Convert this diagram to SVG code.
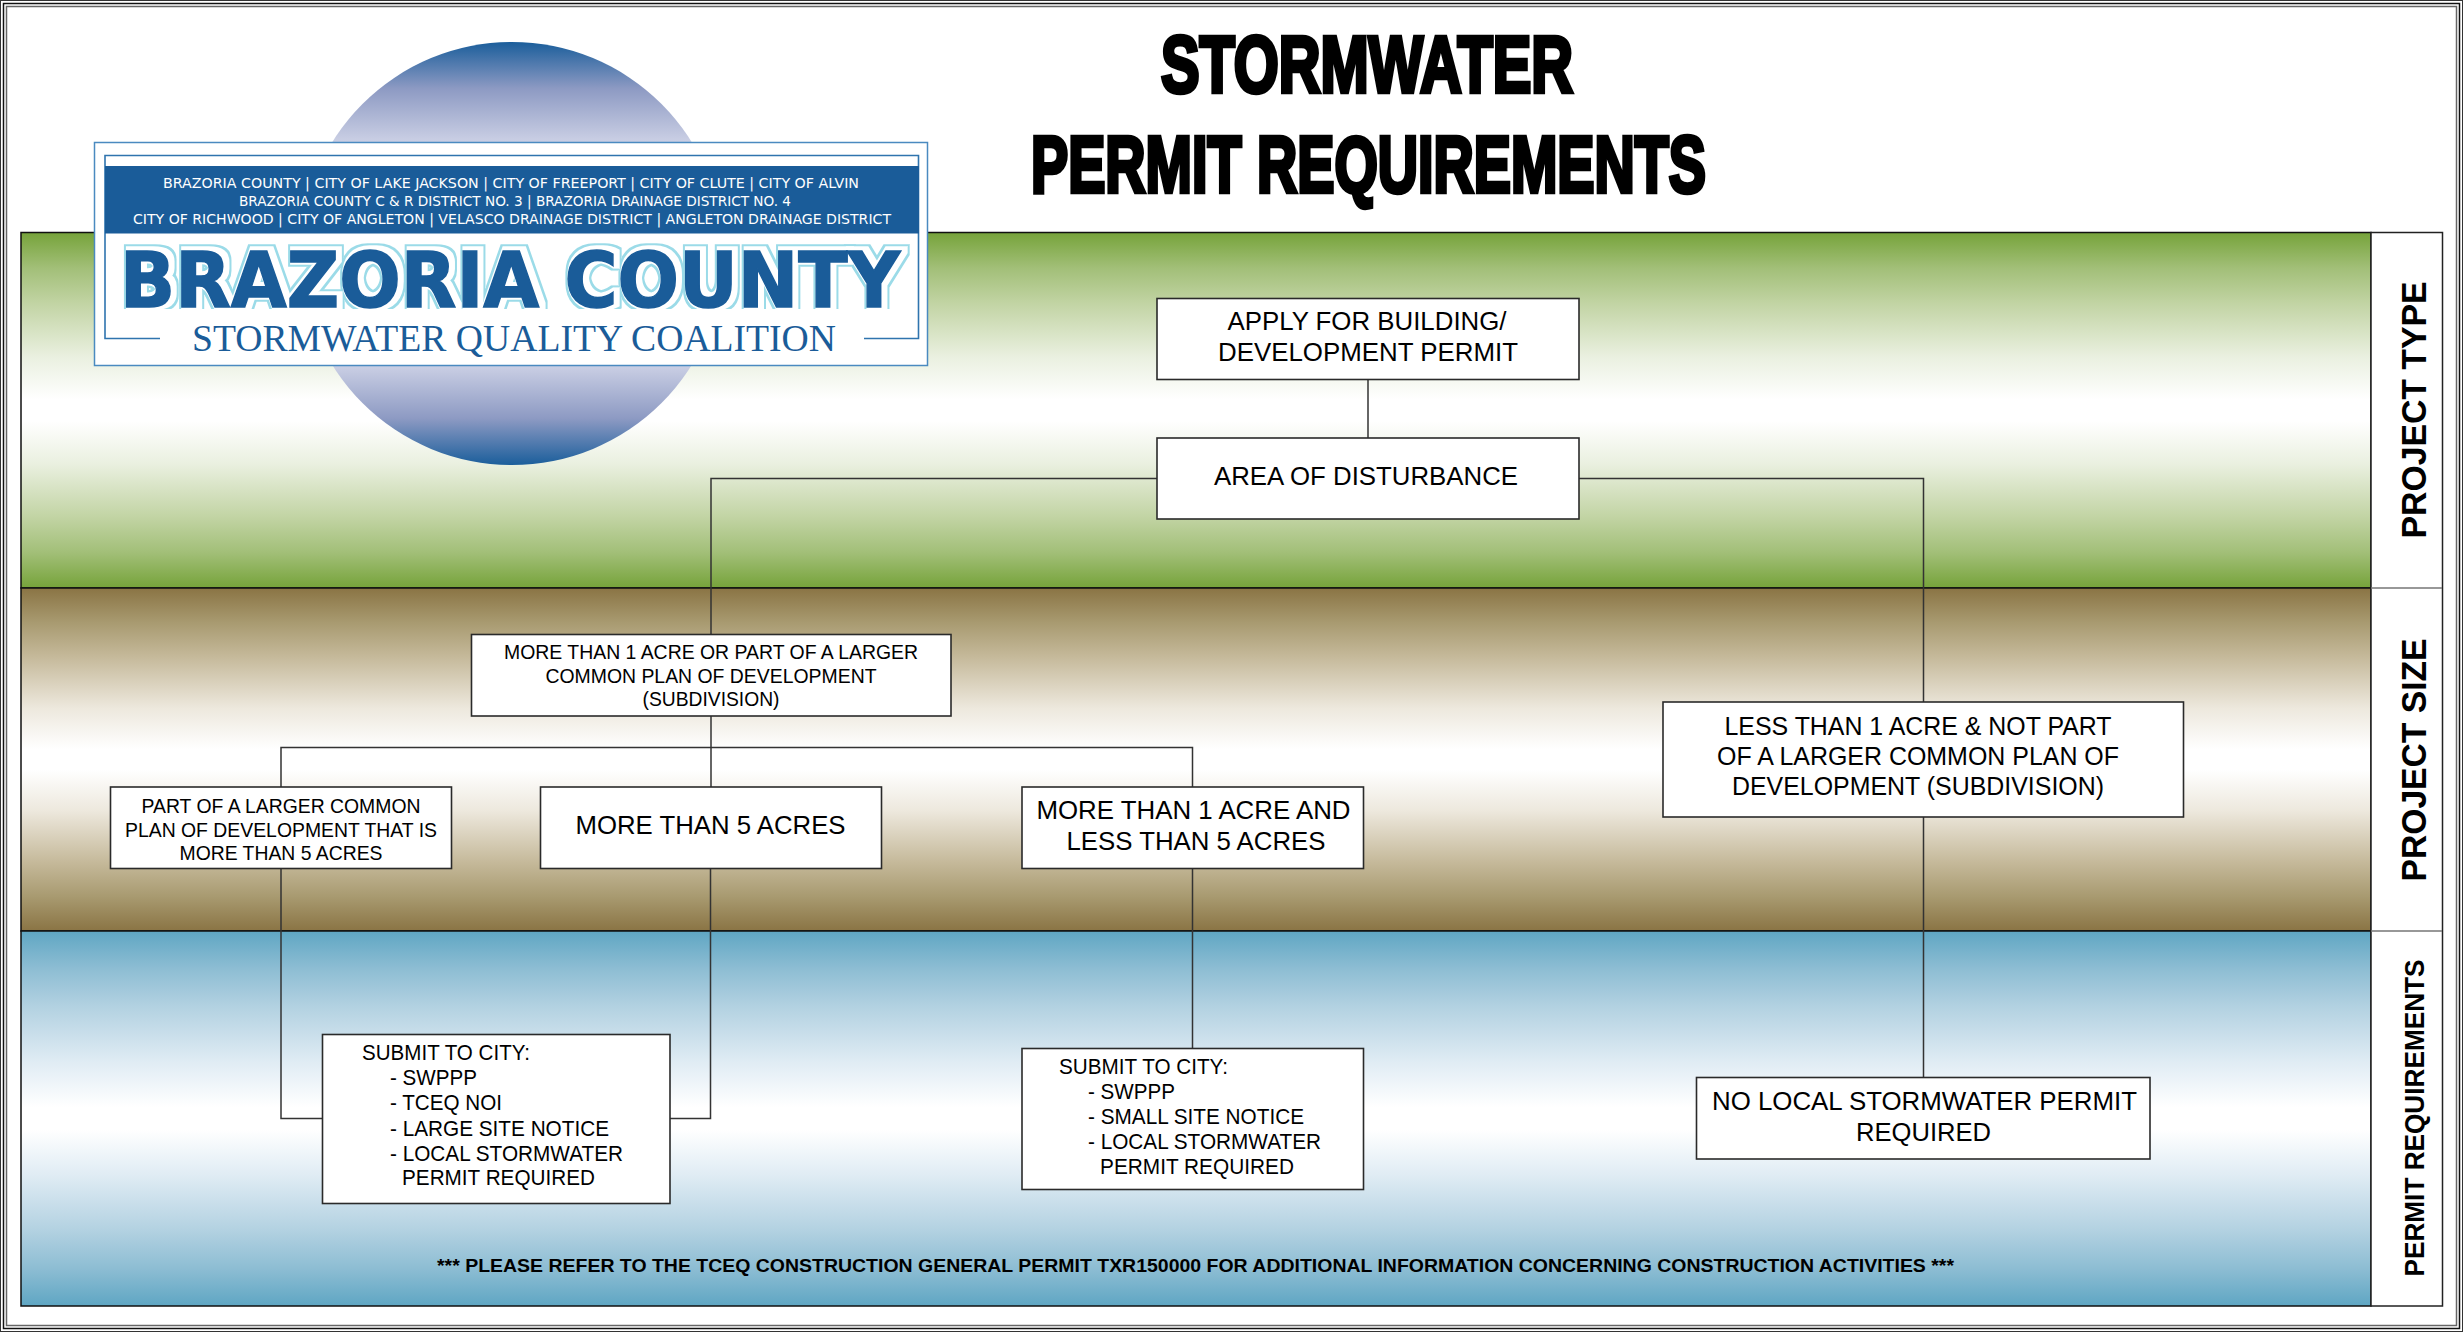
<svg xmlns="http://www.w3.org/2000/svg" width="2463" height="1332" viewBox="0 0 2463 1332">
<style>
text{font-family:"Liberation Sans",Arial,sans-serif;fill:#000}
.box{fill:#fff;stroke:#2a2a2a;stroke-width:1.6}
.c{text-anchor:middle}
.conn{fill:none;stroke:#333;stroke-width:1.5}
.title{font-family:"Liberation Sans Narrow","Liberation Sans",Arial,sans-serif;font-weight:700;font-size:80px;stroke:#000;stroke-width:4.5px;text-anchor:start}
.side{font-weight:700;text-anchor:middle}
.band{stroke:#111;stroke-width:1.5}
.logoTop{font-family:"DejaVu Sans Condensed","DejaVu Sans",sans-serif;font-size:14px;fill:#fff}
.a{font-size:26px}.b{font-size:21px}.d{font-size:22px}
</style>
<defs>
<linearGradient id="gG" x1="0" y1="0" x2="0" y2="1"><stop offset="0" stop-color="#76a33a"/><stop offset=".1" stop-color="#a2bf78"/><stop offset=".2" stop-color="#c2d4a4"/><stop offset=".35" stop-color="#eaf0e0"/><stop offset=".47" stop-color="#fff"/><stop offset=".53" stop-color="#fff"/><stop offset=".65" stop-color="#eaf0e0"/><stop offset=".8" stop-color="#c2d4a4"/><stop offset=".9" stop-color="#a2bf78"/><stop offset="1" stop-color="#76a33a"/></linearGradient>
<linearGradient id="gB" x1="0" y1="0" x2="0" y2="1"><stop offset="0" stop-color="#8a7444"/><stop offset=".1" stop-color="#a89a70"/><stop offset=".2" stop-color="#c5b99a"/><stop offset=".35" stop-color="#ede8dd"/><stop offset=".47" stop-color="#fff"/><stop offset=".53" stop-color="#fff"/><stop offset=".65" stop-color="#ede8dd"/><stop offset=".8" stop-color="#c5b99a"/><stop offset=".9" stop-color="#a89a70"/><stop offset="1" stop-color="#8a7444"/></linearGradient>
<linearGradient id="gW" x1="0" y1="0" x2="0" y2="1"><stop offset="0" stop-color="#5fa6c3"/><stop offset=".1" stop-color="#8dbdd3"/><stop offset=".2" stop-color="#b2d1e1"/><stop offset=".35" stop-color="#e0ecf4"/><stop offset=".47" stop-color="#fff"/><stop offset=".53" stop-color="#fff"/><stop offset=".65" stop-color="#e0ecf4"/><stop offset=".8" stop-color="#b2d1e1"/><stop offset=".9" stop-color="#8dbdd3"/><stop offset="1" stop-color="#5fa6c3"/></linearGradient>
<linearGradient id="gC" x1="0" y1="0" x2="0" y2="1"><stop offset="0" stop-color="#1b5e9b"/><stop offset=".11" stop-color="#8d9ac3"/><stop offset=".23" stop-color="#c8cde3"/><stop offset=".5" stop-color="#fff"/><stop offset=".77" stop-color="#c8cde3"/><stop offset=".89" stop-color="#8d9ac3"/><stop offset="1" stop-color="#1b5e9b"/></linearGradient>
<filter id="ring" filterUnits="userSpaceOnUse" x="105" y="235" width="815" height="74.5" color-interpolation-filters="sRGB">
<feMorphology in="SourceAlpha" operator="dilate" radius="4.5" result="o"/>
<feMorphology in="SourceAlpha" operator="dilate" radius="2.6" result="i"/>
<feComposite in="o" in2="i" operator="out" result="r"/>
<feOffset in="r" dx="3" dy="-1.5" result="ro"/>
<feFlood flood-color="#9bdbe8"/>
<feComposite in2="ro" operator="in" result="cy"/>
<feMerge><feMergeNode in="cy"/><feMergeNode in="SourceGraphic"/></feMerge>
</filter>
</defs>
<rect width="2463" height="1332" fill="#fff"/>
<g id="frame" fill="none">
<rect x="0.5" y="0.5" width="2462" height="1331" stroke="#333" stroke-width="1"/>
<rect x="3.5" y="3.5" width="2456" height="1325" stroke="#111" stroke-width="1.5"/>
<rect x="6.5" y="6.5" width="2450" height="1319" stroke="#666" stroke-width="1.5"/>
</g>
<g id="bands">
<rect class="band" x="21" y="232.5" width="2350" height="355.5" fill="url(#gG)"/>
<rect class="band" x="21" y="588" width="2350" height="343" fill="url(#gB)"/>
<rect class="band" x="21" y="931" width="2350" height="375" fill="url(#gW)"/>
</g>
<g id="sidebar">
<rect x="2371" y="232.5" width="71.5" height="1073.5" fill="#fff" stroke="#222" stroke-width="1.5"/>
<path d="M2371 588H2442M2371 931H2442" stroke="#777" stroke-width="1.5" fill="none"/>
<text class="side" font-size="35" transform="translate(2426 410) rotate(-90)" textLength="257" lengthAdjust="spacingAndGlyphs">PROJECT TYPE</text>
<text class="side" font-size="35" transform="translate(2426 760) rotate(-90)" textLength="243" lengthAdjust="spacingAndGlyphs">PROJECT SIZE</text>
<text class="side" font-size="28" transform="translate(2424 1118) rotate(-90)" textLength="317" lengthAdjust="spacingAndGlyphs">PERMIT REQUIREMENTS</text>
</g>
<g id="title">
<text class="title" x="1161" y="92" textLength="412" lengthAdjust="spacingAndGlyphs">STORMWATER</text>
<text class="title" x="1031" y="192" textLength="675" lengthAdjust="spacingAndGlyphs">PERMIT REQUIREMENTS</text>
</g>
<g id="logo">
<circle cx="512" cy="253.5" r="211.5" fill="url(#gC)"/>
<rect x="94.5" y="142.5" width="833" height="223" fill="#fff" stroke="#4a8ac0" stroke-width="1.5"/>
<path d="M160 338.5H105V155.5H918.5V338.5H864" fill="none" stroke="#2f74ae" stroke-width="1.6"/>
<rect x="105" y="166" width="814" height="67.5" fill="#1a5c99"/>
<text class="logoTop" x="163" y="187.5" textLength="696" lengthAdjust="spacingAndGlyphs">BRAZORIA COUNTY | CITY OF LAKE JACKSON | CITY OF FREEPORT | CITY OF CLUTE | CITY OF ALVIN</text>
<text class="logoTop" x="239" y="205.5" textLength="552" lengthAdjust="spacingAndGlyphs">BRAZORIA COUNTY C &amp; R DISTRICT NO. 3 | BRAZORIA DRAINAGE DISTRICT NO. 4</text>
<text class="logoTop" x="133" y="223.5" textLength="758" lengthAdjust="spacingAndGlyphs">CITY OF RICHWOOD | CITY OF ANGLETON | VELASCO DRAINAGE DISTRICT | ANGLETON DRAINAGE DISTRICT</text>
<text x="120" y="306.5" filter="url(#ring)" textLength="780" lengthAdjust="spacingAndGlyphs" style="font-family:'DejaVu Sans',sans-serif;font-weight:700;font-size:77px;fill:#1a5c99;stroke:#1a5c99;stroke-width:1.5px">BRAZORIA COUNTY</text>
<text x="192" y="351" textLength="644" lengthAdjust="spacingAndGlyphs" style="font-family:'Liberation Serif',serif;font-size:37px;fill:#1a5c99">STORMWATER QUALITY COALITION</text>
</g>
<g id="connectors" class="conn">
<path d="M1368 380V438"/>
<path d="M1157 478.5H711V634.5"/>
<path d="M1579 478.5H1923.5V702"/>
<path d="M711 716V787"/>
<path d="M281 787V747.5H1192.5V787"/>
<path d="M281 868.5V1118.5H322.5"/>
<path d="M710.5 868.5V1118.5H670"/>
<path d="M1192.5 868.5V1048.5"/>
<path d="M1923.5 817V1077.5"/>
</g>
<g id="node-apply"><rect class="box" x="1157" y="298.5" width="422" height="81"/><text class="c a" x="1367" y="330" textLength="279" lengthAdjust="spacingAndGlyphs">APPLY FOR BUILDING/</text><text class="c a" x="1368" y="361" textLength="300" lengthAdjust="spacingAndGlyphs">DEVELOPMENT PERMIT</text></g>
<g id="node-area"><rect class="box" x="1157" y="438" width="422" height="81"/><text class="c a" x="1366" y="485" textLength="304" lengthAdjust="spacingAndGlyphs">AREA OF DISTURBANCE</text></g>
<g id="node-more1"><rect class="box" x="471.5" y="634.5" width="479.5" height="81.5"/><text class="c b" x="711" y="659" textLength="414" lengthAdjust="spacingAndGlyphs">MORE THAN 1 ACRE OR PART OF A LARGER</text><text class="c b" x="711" y="682.5" textLength="331" lengthAdjust="spacingAndGlyphs">COMMON PLAN OF DEVELOPMENT</text><text class="c b" x="711" y="706" textLength="137" lengthAdjust="spacingAndGlyphs">(SUBDIVISION)</text></g>
<g id="node-part"><rect class="box" x="110.5" y="787" width="341" height="81.5"/><text class="c b" x="281" y="813" textLength="279" lengthAdjust="spacingAndGlyphs">PART OF A LARGER COMMON</text><text class="c b" x="281" y="836.5" textLength="312" lengthAdjust="spacingAndGlyphs">PLAN OF DEVELOPMENT THAT IS</text><text class="c b" x="281" y="859.5" textLength="203" lengthAdjust="spacingAndGlyphs">MORE THAN 5 ACRES</text></g>
<g id="node-more5"><rect class="box" x="540.5" y="787" width="341" height="81.5"/><text class="c a" x="710.5" y="834" textLength="270" lengthAdjust="spacingAndGlyphs">MORE THAN 5 ACRES</text></g>
<g id="node-more1less5"><rect class="box" x="1022" y="787" width="341.5" height="81.5"/><text class="c a" x="1193.5" y="818.5" textLength="314" lengthAdjust="spacingAndGlyphs">MORE THAN 1 ACRE AND</text><text class="c a" x="1196" y="850" textLength="259" lengthAdjust="spacingAndGlyphs">LESS THAN 5 ACRES</text></g>
<g id="node-less1"><rect class="box" x="1663" y="702" width="520.5" height="115"/><text class="c a" x="1918" y="734.5" textLength="387" lengthAdjust="spacingAndGlyphs">LESS THAN 1 ACRE &amp; NOT PART</text><text class="c a" x="1918" y="764.5" textLength="402" lengthAdjust="spacingAndGlyphs">OF A LARGER COMMON PLAN OF</text><text class="c a" x="1918" y="794.5" textLength="372" lengthAdjust="spacingAndGlyphs">DEVELOPMENT (SUBDIVISION)</text></g>
<g id="node-submit1"><rect class="box" x="322.5" y="1034.5" width="347.5" height="169"/>
<text class="d" x="362" y="1060" textLength="168" lengthAdjust="spacingAndGlyphs">SUBMIT TO CITY:</text><text class="d" x="390" y="1085" textLength="87" lengthAdjust="spacingAndGlyphs">- SWPPP</text><text class="d" x="390" y="1110" textLength="112" lengthAdjust="spacingAndGlyphs">- TCEQ NOI</text><text class="d" x="390" y="1135.5" textLength="219" lengthAdjust="spacingAndGlyphs">- LARGE SITE NOTICE</text><text class="d" x="390" y="1160.5" textLength="233" lengthAdjust="spacingAndGlyphs">- LOCAL STORMWATER</text><text class="d" x="402" y="1185" textLength="193" lengthAdjust="spacingAndGlyphs">PERMIT REQUIRED</text></g>
<g id="node-submit2"><rect class="box" x="1022" y="1048.5" width="341.5" height="141"/>
<text class="d" x="1059" y="1074" textLength="169" lengthAdjust="spacingAndGlyphs">SUBMIT TO CITY:</text><text class="d" x="1088" y="1099" textLength="87" lengthAdjust="spacingAndGlyphs">- SWPPP</text><text class="d" x="1088" y="1124" textLength="216" lengthAdjust="spacingAndGlyphs">- SMALL SITE NOTICE</text><text class="d" x="1088" y="1149" textLength="233" lengthAdjust="spacingAndGlyphs">- LOCAL STORMWATER</text><text class="d" x="1100" y="1174" textLength="194" lengthAdjust="spacingAndGlyphs">PERMIT REQUIRED</text></g>
<g id="node-nolocal"><rect class="box" x="1696.5" y="1077.5" width="453.5" height="81.5"/><text class="c a" x="1924.5" y="1110" textLength="425" lengthAdjust="spacingAndGlyphs">NO LOCAL STORMWATER PERMIT</text><text class="c a" x="1923.5" y="1141" textLength="135" lengthAdjust="spacingAndGlyphs">REQUIRED</text></g>
<g id="note"><text class="c" x="1195.5" y="1272" font-size="19" font-weight="700" textLength="1517" lengthAdjust="spacingAndGlyphs">*** PLEASE REFER TO THE TCEQ CONSTRUCTION GENERAL PERMIT TXR150000 FOR ADDITIONAL INFORMATION CONCERNING CONSTRUCTION ACTIVITIES ***</text></g>
</svg>
